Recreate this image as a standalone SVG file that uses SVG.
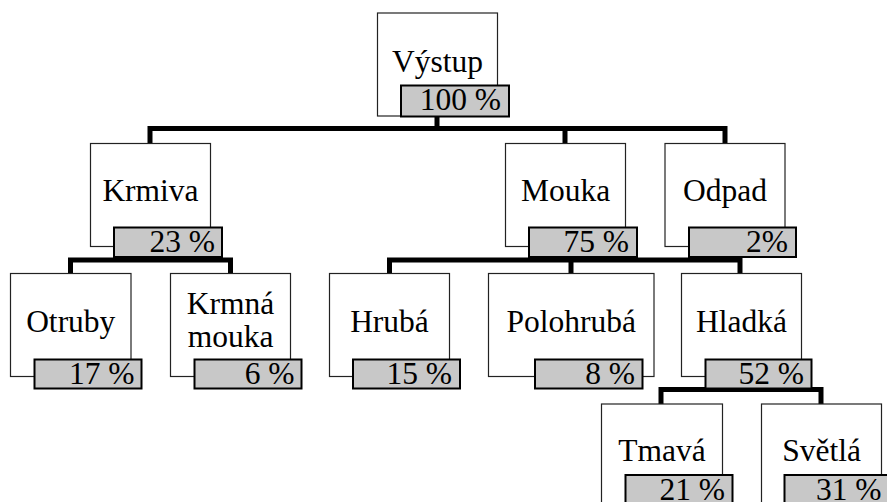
<svg xmlns="http://www.w3.org/2000/svg" width="887" height="502" viewBox="0 0 887 502">
<style>
.box{fill:#fff;stroke:#222;stroke-width:1.2}
.pct{fill:#c8c8c8;stroke:#000;stroke-width:2}
text{font-family:"Liberation Serif",Tinos,"Noto Serif","Nimbus Roman","Nimbus Roman No9 L",FreeSerif,Times,"Times New Roman","DejaVu Serif",serif;font-size:31.5px;fill:#000}
.lbl{text-anchor:middle}
.num{text-anchor:end}
.con{fill:none;stroke:#000;stroke-width:5;stroke-linejoin:miter;stroke-linecap:butt}
</style>
<rect width="887" height="502" fill="#fff"/>
<g id="connectors">
<path class="con" d="M437,116 V128.5 M150,143.5 V128.5 H725 V143.5 M565,128.5 V143.5"/>
<path class="con" d="M70.5,273.5 V260 H230.5 V273.5"/>
<path class="con" d="M389.5,273.5 V260 H740 V273.5 M571,260 V273.5"/>
<path class="con" d="M661,404 V389.5 H821 V404"/>
</g>
<g id="vystup">
<rect class="box" x="377.5" y="13" width="120" height="103"/>
<rect class="pct" x="401" y="85.5" width="108" height="31"/>
<text class="lbl" x="437.5" y="71.5">Výstup</text>
<text class="num" x="501" y="110">100 %</text>
</g>
<g id="krmiva">
<rect class="box" x="90.5" y="143.5" width="120" height="103"/>
<rect class="pct" x="114" y="227.5" width="108" height="29.5"/>
<text class="lbl" x="150.5" y="201">Krmiva</text>
<text class="num" x="215" y="252">23 %</text>
</g>
<g id="mouka">
<rect class="box" x="505.5" y="143.5" width="120" height="103"/>
<rect class="pct" x="529" y="227.5" width="108" height="29.5"/>
<text class="lbl" x="565.5" y="201">Mouka</text>
<text class="num" x="629" y="252">75 %</text>
</g>
<g id="odpad">
<rect class="box" x="665" y="143.5" width="120" height="103"/>
<rect class="pct" x="689" y="227.5" width="107" height="29.5"/>
<text class="lbl" x="725" y="201">Odpad</text>
<text class="num" x="788" y="252">2%</text>
</g>
<g id="otruby">
<rect class="box" x="10.5" y="273.5" width="120.5" height="103"/>
<rect class="pct" x="34.5" y="359.5" width="107" height="29"/>
<text class="lbl" x="70.75" y="332">Otruby</text>
<text class="num" x="134.5" y="384">17 %</text>
</g>
<g id="krmna-mouka">
<rect class="box" x="170.5" y="273.5" width="120" height="103"/>
<rect class="pct" x="194.5" y="359.5" width="107" height="29"/>
<text class="lbl" x="230.5" y="313.5">Krmná</text>
<text class="lbl" x="230.5" y="346.5">mouka</text>
<text class="num" x="294.5" y="384">6 %</text>
</g>
<g id="hruba">
<rect class="box" x="329.5" y="273.5" width="120" height="103"/>
<rect class="pct" x="353" y="359.5" width="107" height="29"/>
<text class="lbl" x="389.5" y="332">Hrubá</text>
<text class="num" x="452" y="384">15 %</text>
</g>
<g id="polohruba">
<rect class="box" x="488.5" y="273.5" width="165.5" height="103"/>
<rect class="pct" x="535" y="359.5" width="107.5" height="29"/>
<text class="lbl" x="571.25" y="332">Polohrubá</text>
<text class="num" x="635" y="384">8 %</text>
</g>
<g id="hladka">
<rect class="box" x="681.5" y="273.5" width="120" height="103"/>
<rect class="pct" x="705.5" y="359.5" width="106" height="29"/>
<text class="lbl" x="741.5" y="332">Hladká</text>
<text class="num" x="804" y="384">52 %</text>
</g>
<g id="tmava">
<rect class="box" x="601.5" y="404" width="121" height="110"/>
<rect class="pct" x="625.5" y="475" width="107" height="29"/>
<text class="lbl" x="662" y="460.5">Tmavá</text>
<text class="num" x="725" y="499.5">21 %</text>
</g>
<g id="svetla">
<rect class="box" x="761.5" y="404" width="120" height="110"/>
<rect class="pct" x="784.5" y="475" width="108" height="29"/>
<text class="lbl" x="821.5" y="460.5">Světlá</text>
<text class="num" x="881.5" y="499.5">31 %</text>
</g>
</svg>
